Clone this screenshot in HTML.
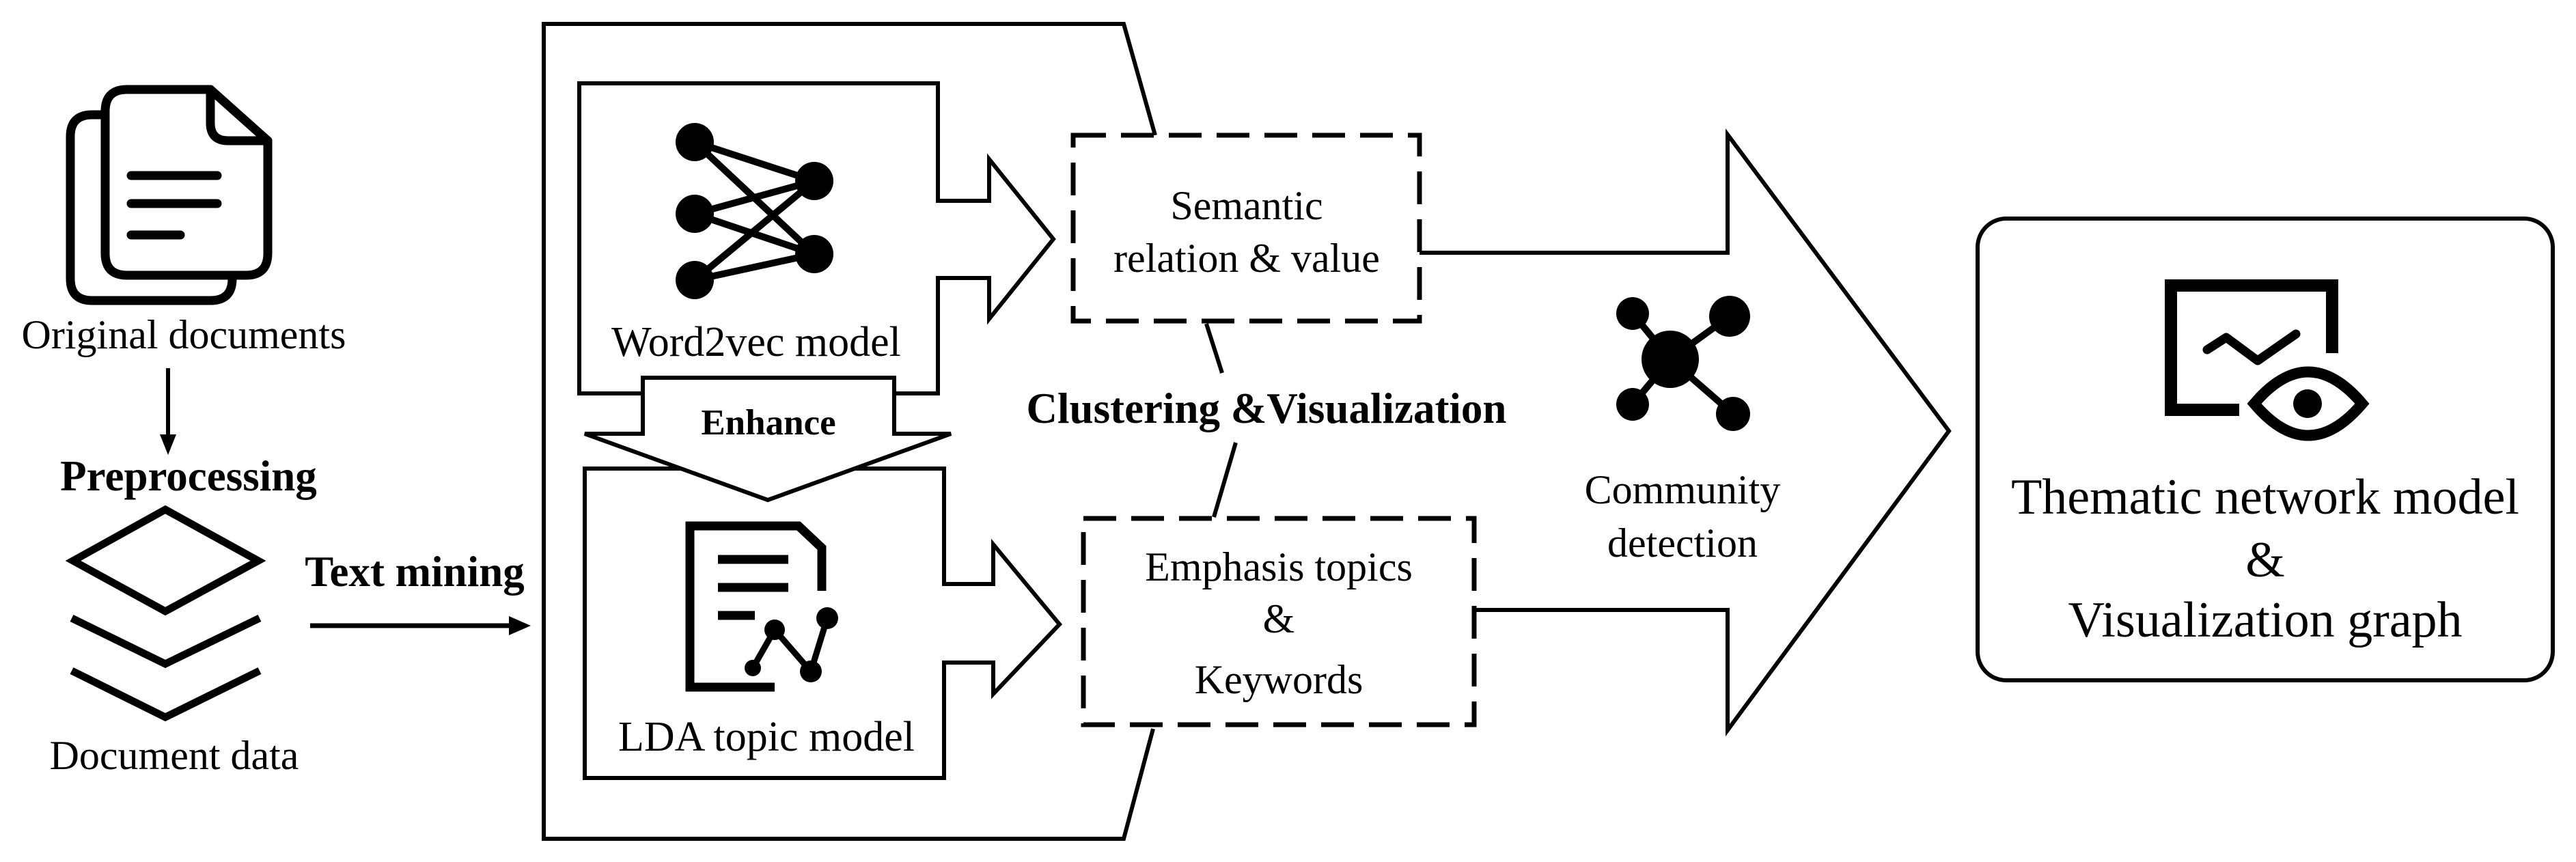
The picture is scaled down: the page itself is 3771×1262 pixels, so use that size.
<!DOCTYPE html>
<html><head><meta charset="utf-8"><style>
html,body{margin:0;padding:0;background:#fff;}
svg{display:block;}
text{font-family:"Liberation Serif",serif;fill:#000;}
.b{font-weight:bold;}
</style></head><body>
<svg width="3771" height="1262" viewBox="0 0 3771 1262" xmlns="http://www.w3.org/2000/svg">
<rect width="3771" height="1262" fill="#fff"/>
<!-- documents icon -->
<g fill="none" stroke="#000" stroke-width="13" stroke-linecap="round" stroke-linejoin="round">
<path d="M150 168 H135 Q103 168 103 200 V408 Q103 440 135 440 H308 Q340 440 340 408"/>
<path d="M308 131 H186 Q154 131 154 163 V371 Q154 403 186 403 H360 Q392 403 392 371 V206 L308 131 Z" fill="#fff"/>
<path d="M308 131 V180 Q308 206 334 206 H392"/>
<line x1="192" y1="257" x2="318" y2="257"/>
<line x1="192" y1="298" x2="318" y2="298"/>
<line x1="192" y1="344" x2="264" y2="344"/>
</g>
<text x="269" y="510" font-size="60" text-anchor="middle">Original documents</text>
<line x1="246" y1="539" x2="246" y2="640" stroke="#000" stroke-width="6"/>
<polygon points="234,636 258,636 246,666" fill="#000"/>
<text x="276" y="718" font-size="63" class="b" text-anchor="middle">Preprocessing</text>
<!-- layers -->
<g fill="none" stroke="#000" stroke-width="11" stroke-linejoin="miter">
<polygon points="242,746 378,821 242,895 107,821"/>
<polyline points="105,905 242,972 380,905"/>
<polyline points="105,982 242,1050 380,982"/>
</g>
<text x="255" y="1126" font-size="60" text-anchor="middle">Document data</text>
<text x="607" y="858" font-size="63" class="b" text-anchor="middle">Text mining</text>
<line x1="454" y1="916" x2="750" y2="916" stroke="#000" stroke-width="7"/>
<polygon points="745,902 777,916 745,930" fill="#000"/>
<!-- outer container (open on right between boxes) -->
<polyline points="1691,198 1645,35 796,35 796,1228 1645,1228 1688,1067" fill="none" stroke="#000" stroke-width="6"/>
<!-- Word2vec box with arrow -->
<polygon points="848,122 1373,122 1373,294 1448,294 1448,233 1542,350 1448,467 1448,407 1373,407 1373,576 848,576" fill="#fff" stroke="#000" stroke-width="6"/>
<g stroke="#000" stroke-width="10">
<line x1="1017" y1="208" x2="1192" y2="265"/><line x1="1017" y1="208" x2="1192" y2="372"/>
<line x1="1017" y1="313" x2="1192" y2="265"/><line x1="1017" y1="313" x2="1192" y2="372"/>
<line x1="1017" y1="410" x2="1192" y2="265"/><line x1="1017" y1="410" x2="1192" y2="372"/>
</g>
<g fill="#000"><circle cx="1017" cy="208" r="28"/><circle cx="1017" cy="313" r="28"/><circle cx="1017" cy="410" r="28"/><circle cx="1192" cy="265" r="28"/><circle cx="1192" cy="372" r="28"/></g>
<text x="1107" y="521" font-size="62" text-anchor="middle">Word2vec model</text>
<!-- LDA box -->
<polygon points="856,686 1382,686 1382,855 1454,855 1454,797 1551,914 1454,1016 1454,970 1382,970 1382,1139 856,1139" fill="#fff" stroke="#000" stroke-width="6"/>
<!-- Enhance arrow -->
<polygon points="941,553 1309,553 1309,635 1392,635 1124,732 856,635 941,635" fill="#fff" stroke="#000" stroke-width="6"/>
<text x="1125" y="636" font-size="53" class="b" text-anchor="middle">Enhance</text>
<!-- LDA icon -->
<g fill="none" stroke="#000" stroke-width="13">
<polyline points="1134,1006 1010,1006 1010,770 1169,770 1203,802 1203,865"/>
<line x1="1051" y1="819" x2="1154" y2="819"/><line x1="1051" y1="860" x2="1154" y2="860"/><line x1="1051" y1="901" x2="1105" y2="901"/>
</g>
<polyline points="1102,978 1134,922 1187,983 1211,905" fill="none" stroke="#000" stroke-width="9"/>
<g fill="#000"><circle cx="1102" cy="978" r="12"/><circle cx="1134" cy="922" r="15"/><circle cx="1187" cy="983" r="16"/><circle cx="1211" cy="905" r="16"/></g>
<text x="1122" y="1099" font-size="62" text-anchor="middle">LDA topic model</text>
<!-- dashed boxes -->
<g fill="#fff" stroke="#000" stroke-width="7" stroke-dasharray="48,22">
<rect x="1571" y="198" width="507" height="272"/>
<rect x="1586" y="759" width="572" height="302"/>
</g>
<text x="1825" y="321" font-size="60" text-anchor="middle">Semantic</text>
<text x="1825" y="398" font-size="60" text-anchor="middle">relation &amp; value</text>
<text x="1872" y="850" font-size="60" text-anchor="middle">Emphasis topics</text>
<text x="1872" y="926" font-size="60" text-anchor="middle">&amp;</text>
<text x="1872" y="1015" font-size="60" text-anchor="middle">Keywords</text>
<g stroke="#000" stroke-width="6">
<line x1="1766" y1="474" x2="1789" y2="546"/>
<line x1="1809" y1="648" x2="1777" y2="757"/>
</g>
<text x="1854" y="619" font-size="63" class="b" text-anchor="middle">Clustering &amp;Visualization</text>
<!-- big arrow -->
<polyline points="2078,370 2529,370 2529,197 2853,631 2529,1069 2529,893 2158,893" fill="none" stroke="#000" stroke-width="6" stroke-linejoin="miter"/>
<!-- community icon -->
<g stroke="#000" stroke-width="10">
<line x1="2445" y1="526" x2="2390" y2="459"/><line x1="2445" y1="526" x2="2532" y2="463"/>
<line x1="2445" y1="526" x2="2390" y2="592"/><line x1="2445" y1="526" x2="2537" y2="606"/>
</g>
<g fill="#000"><circle cx="2445" cy="526" r="42"/><circle cx="2390" cy="459" r="24"/><circle cx="2532" cy="463" r="30"/><circle cx="2390" cy="592" r="24"/><circle cx="2537" cy="606" r="25"/></g>
<text x="2463" y="737" font-size="60" text-anchor="middle">Community</text>
<text x="2463" y="815" font-size="60" text-anchor="middle">detection</text>
<!-- result box -->
<rect x="2895" y="320" width="842" height="676" rx="42" ry="42" fill="none" stroke="#000" stroke-width="6"/>
<g fill="none" stroke="#000">
<polyline points="3278,600 3178,600 3178,418 3414,418 3414,517" stroke-width="18"/>
<polyline points="3231,512 3259,494 3305,528 3361,489" stroke-width="13" stroke-linecap="round" stroke-linejoin="round"/>
<path d="M3300 591 Q3379 498 3458 591 Q3379 684 3300 591 Z" stroke-width="16" stroke-linejoin="miter"/>
</g>
<circle cx="3378" cy="591" r="21" fill="#000"/>
<text x="3316" y="752" font-size="74" text-anchor="middle">Thematic network model</text>
<text x="3316" y="844" font-size="74" text-anchor="middle">&amp;</text>
<text x="3316" y="932" font-size="74" text-anchor="middle">Visualization graph</text>
</svg>
</body></html>
